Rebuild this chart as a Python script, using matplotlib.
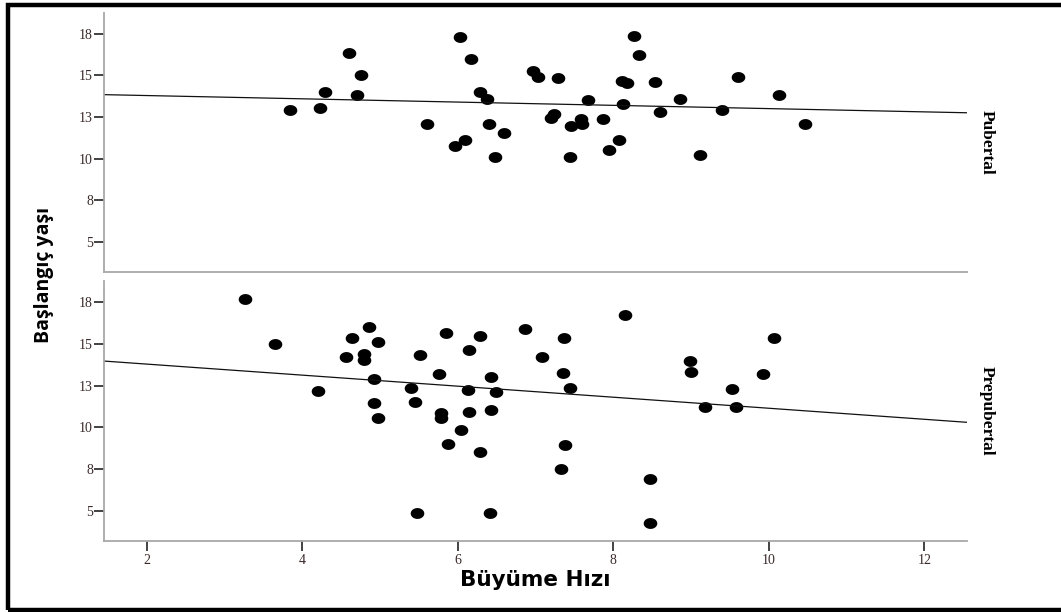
import numpy as np
import matplotlib
matplotlib.use("Agg")
import matplotlib.pyplot as plt
from matplotlib.path import Path
from matplotlib.patches import Rectangle

# Pubertal grup: büyüme hızı (x) ve başlangıç yaşı (y)
pub_x = [3.84, 4.23, 4.29, 4.60, 4.75, 4.71, 5.60, 6.03, 6.17, 6.28, 6.37, 6.40,
         6.59, 6.09, 5.97, 6.48, 6.97, 7.03, 7.29, 8.27, 8.33, 8.11, 8.18, 8.54,
         9.60, 10.13, 8.86, 7.67, 8.12, 9.40, 8.60, 7.24, 7.20, 7.58, 7.60, 7.46,
         7.87, 10.46, 8.07, 7.94, 7.44, 9.12]
pub_y = [12.91, 13.06, 14.03, 16.35, 15.01, 13.81, 12.10, 17.28, 16.00, 14.01, 13.61, 12.08,
         11.54, 11.10, 10.76, 10.08, 15.25, 14.91, 14.83, 17.38, 16.24, 14.69, 14.55, 14.59,
         14.91, 13.85, 13.61, 13.53, 13.27, 12.94, 12.78, 12.70, 12.46, 12.37, 12.08, 11.94,
         12.37, 12.08, 11.14, 10.52, 10.13, 10.25]

# Prepubertal grup
pre_x = [3.26, 3.65, 4.20, 4.86, 4.64, 4.98, 4.56, 4.80, 4.80, 4.92, 4.92, 4.98,
         5.47, 5.85, 6.28, 6.15, 5.52, 5.76, 5.40, 6.13, 5.45, 5.78, 5.78, 6.14,
         6.04, 5.88, 6.29, 6.43, 6.49, 6.43, 6.42, 6.86, 7.09, 7.37, 7.36, 7.44,
         7.38, 7.33, 8.15, 8.47, 8.47, 8.99, 9.00, 9.18, 9.53, 9.58, 9.93, 10.07]
pre_y = [17.70, 14.98, 12.20, 16.02, 15.32, 15.10, 14.20, 14.40, 14.00, 12.90, 11.46, 10.56,
         4.86, 15.66, 15.44, 14.61, 14.30, 13.20, 12.36, 12.26, 11.54, 10.84, 10.54, 10.94,
         9.82, 9.00, 8.50, 13.00, 12.10, 11.02, 4.88, 15.90, 14.18, 15.36, 13.24, 12.36,
         8.94, 7.52, 16.74, 6.90, 4.30, 13.94, 13.28, 11.20, 12.32, 11.20, 13.20, 15.34]

# doğrusal uyum çizgileri (kesişim, eğim)
pub_fit = [13.99, -0.098]
pre_fit = [14.44, -0.330]

groups = ["Pubertal", "Prepubertal"]
y_ticks = [5, 7.5, 10, 12.5, 15, 17.5]
y_ticklabels = ["5", "8", "10", "13", "15", "18"]
x_ticks = [2, 4, 6, 8, 10, 12]
x_lim = (1.45, 12.55)
y_lim = (3.2, 18.75)

# hafif yatay elips nokta
t = np.linspace(0, 2 * np.pi, 40)
ellipse = Path(np.column_stack([1.25 * np.cos(t), np.sin(t)]), closed=True)

fig = plt.figure(figsize=(10.61, 6.12), dpi=100)
W, H = 1061, 612


def add_panel(top_px, bottom_px):
    return fig.add_axes([104 / W, 1 - bottom_px / H, 863 / W, (bottom_px - top_px) / H])


ax1 = add_panel(13, 272)
ax2 = add_panel(281, 541)

panels = [(ax1, pub_x, pub_y, pub_fit), (ax2, pre_x, pre_y, pre_fit)]
for (ax, xs, ys, fit), name in zip(panels, groups):
    ax.plot(xs, ys, linestyle="none", marker=ellipse, markersize=9.8,
            color="black", markeredgewidth=0)
    lx = np.array(x_lim)
    ax.plot(lx, fit[0] + fit[1] * lx, color="#111111", linewidth=0.9)
    ax.set_xlim(x_lim)
    ax.set_ylim(y_lim)
    for s in ["top", "right"]:
        ax.spines[s].set_visible(False)
    for s in ["left", "bottom"]:
        ax.spines[s].set_color("#a8a8a8")
        ax.spines[s].set_linewidth(1.3)
    ax.set_yticks(y_ticks)
    ax.set_yticklabels(y_ticklabels, family="Liberation Serif", fontsize=10, color="#3a2a2a")
    ax.tick_params(axis="y", length=7, width=1.2, color="#222222", pad=1)
    ax.text(1.023, 0.5, name, transform=ax.transAxes, rotation=270,
            ha="center", va="center", family="Liberation Serif",
            fontweight="bold", fontsize=12.5)

ax1.set_xticks([])
ax2.set_xticks(x_ticks)
ax2.set_xticklabels([str(v) for v in x_ticks], family="Liberation Serif", fontsize=10,
                    color="#3a2a2a")
ax2.tick_params(axis="x", length=7, width=1.2, color="#222222", pad=2)

fig.text(535 / W, 1 - 580 / H, "Büyüme Hızı", ha="center", va="center",
         family="DejaVu Sans", fontweight="bold", fontsize=15.5)
fig.text(44 / W, 1 - 275 / H, "Başlangıç yaşı", ha="center", va="center",
         rotation=90, family="Open Sans", fontweight="bold", fontsize=14)

# dış çerçeve (sağ kenar görüntü dışında)
fig.add_artist(Rectangle((8 / W, 1 - 609.5 / H), 1.2, (609.5 - 4.5) / H,
                         transform=fig.transFigure, fill=False,
                         edgecolor="black", linewidth=3.2, clip_on=False))

fig.savefig("out.png", dpi=100)
